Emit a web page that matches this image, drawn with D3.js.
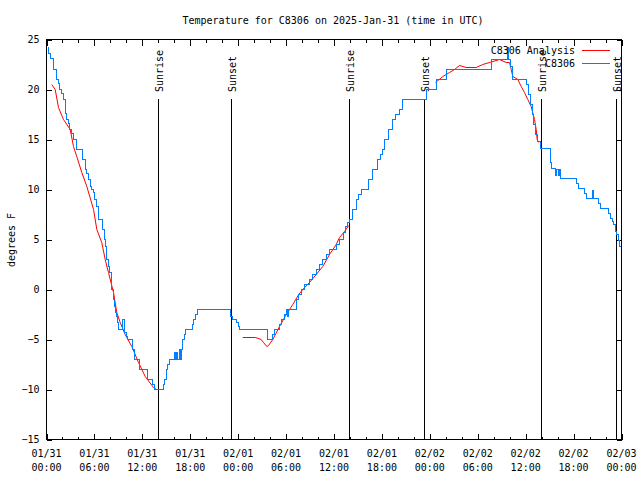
<!DOCTYPE html>
<html><head><meta charset="utf-8">
<script src="https://cdn.jsdelivr.net/npm/d3@7/dist/d3.min.js"></script>
<style>
body{margin:0;background:#fff}
text{font-family:"DejaVu Sans Mono","Liberation Mono",monospace;font-size:10px;fill:#000}
</style>
</head><body>
<svg id="c" width="640" height="480"></svg>
<script>
// ---- data (hours since 2025-01-31 00:00 UTC, degrees F) ----
const blueHours = [0.13,0.25,0.50,0.88,1.25,1.50,1.69,1.88,2.13,2.32,2.50,2.75,2.94,3.13,3.44,3.79,4.55,4.85,5.01,5.26,5.47,5.63,5.89,6.07,6.30,6.51,7.05,7.20,7.35,7.55,7.76,7.89,8.08,8.18,8.33,8.48,8.64,8.80,8.95,9.05,9.48,9.73,10.02,10.18,10.73,11.02,11.65,12.68,13.31,13.52,14.65,14.78,14.99,15.15,15.34,16.00,16.10,16.32,16.42,16.65,16.75,16.88,17.07,17.22,17.41,18.24,18.41,18.66,18.95,23.04,23.25,23.79,23.98,24.17,27.71,28.34,28.55,29.18,29.39,29.80,30.02,30.18,30.30,31.27,31.56,31.89,32.31,32.93,33.31,33.77,34.19,34.60,35.06,35.44,36.28,36.69,37.19,37.44,37.73,37.94,38.35,38.78,39.07,39.41,40.36,40.86,41.45,41.82,42.07,42.32,42.86,43.36,43.70,44.20,44.62,47.55,48.80,50.05,55.69,57.76,57.91,58.10,58.39,60.11,60.36,60.61,60.82,60.98,61.23,61.48,61.86,63.11,63.20,63.74,63.92,64.05,64.25,64.36,66.40,66.65,67.37,67.66,68.33,68.45,69.12,69.37,70.41,70.66,70.87,71.04,71.22,71.41,71.59,71.75,71.94];
const blueTemp = [24.2,23.6,23.1,22.0,21.0,20.6,20.0,19.6,19.0,17.6,17.0,16.6,16.0,15.6,15.0,14.0,13.0,12.0,11.6,11.0,10.3,10.0,9.7,9.0,8.3,7.0,6.0,5.0,4.3,3.0,2.3,1.7,1.0,0.0,-1.0,-1.7,-2.3,-2.7,-3.3,-4.0,-3.0,-4.3,-4.7,-5.0,-6.0,-7.0,-8.0,-9.0,-9.5,-10.0,-9.5,-9.0,-8.0,-7.5,-7.0,-6.3,-7.0,-6.3,-7.0,-6.0,-7.0,-6.0,-5.0,-4.5,-4.0,-3.5,-3.0,-2.5,-2.0,-2.7,-3.0,-3.3,-3.7,-4.0,-5.0,-4.5,-4.0,-3.5,-3.0,-2.5,-2.0,-2.7,-2.0,-1.0,-0.5,0.0,0.5,1.0,1.5,2.0,2.5,3.0,3.5,4.0,4.5,5.0,5.7,6.3,6.7,7.0,8.0,9.0,9.5,10.0,11.0,12.0,13.0,13.5,14.0,15.0,16.0,17.0,17.5,18.0,19.0,20.0,21.0,22.0,23.0,24.2,23.0,22.3,21.0,20.5,19.5,18.5,17.5,16.5,15.5,14.8,14.1,12.7,12.1,11.4,12.0,11.4,12.0,11.1,10.6,10.1,9.6,9.1,9.9,9.1,8.6,8.1,7.6,7.1,6.8,6.5,5.8,5.5,4.9,4.3,4.3];

const redHours = [0.66,1.09,1.50,2.13,2.97,3.38,3.79,4.42,5.05,5.89,6.30,6.92,7.35,7.76,8.39,8.80,9.23,9.85,10.68,11.52,12.36,13.40,13.77,
  20.0,
  24.58,26.17,26.88,27.17,27.59,27.80,28.34,29.18,30.02,30.84,31.59,32.09,32.93,33.77,34.60,35.44,36.28,36.69,37.32,37.85,
  43.0,
  48.71,49.63,50.46,51.09,51.72,52.55,53.81,54.63,55.47,56.72,57.56,57.98,58.19,58.39,59.02,59.44,59.85,60.27,60.69,61.11,61.32,61.44,61.64];
const redTemp = [20.5,20.0,18.2,17.0,16.0,14.3,13.3,11.7,10.3,8.0,6.0,4.7,3.0,1.7,-0.3,-2.3,-3.3,-4.5,-5.7,-7.3,-8.7,-9.8,-10.0,
  null,
  -4.8,-4.8,-5.0,-5.3,-5.7,-5.6,-5.0,-3.7,-2.5,-1.5,-0.5,0.0,0.7,1.5,2.3,3.5,4.5,5.2,5.8,6.4,
  null,
  20.7,21.3,21.7,22.0,22.4,22.2,22.2,22.5,22.7,23.0,22.7,22.7,22.0,21.3,21.0,20.3,19.7,19.0,18.3,17.0,16.0,15.0,14.7];

const eventHours = [14.06,23.20,37.98,47.30,62.02,71.34];
const eventLabels = ["Sunrise","Sunset","Sunrise","Sunset","Sunrise","Sunset"];

const xTickHours = [0,6,12,18,24,30,36,42,48,54,60,66,72];
const xTickDates = ["01/31","01/31","01/31","01/31","02/01","02/01","02/01","02/01","02/02","02/02","02/02","02/02","02/03"];
const xTickTimes = ["00:00","06:00","12:00","18:00","00:00","06:00","12:00","18:00","00:00","06:00","12:00","18:00","00:00"];
const yTicks = [25,20,15,10,5,0,-5,-10,-15];

const seriesNames = ["C8306 Analysis","C8306"];
const seriesColors = ["#ff0000","#0080ff"];
const title = "Temperature for C8306 on 2025-Jan-31 (time in UTC)";
const yLabel = "degrees F";

// ---- drawing ----
const svg = d3.select("#c");
const x = d3.scaleLinear().domain([0,72]).range([46.5,621.5]);
const y = d3.scaleLinear().domain([-15,25]).range([439.5,39.5]);
const minorHours = d3.range(0,73,2);

function axisStyle(g){ g.select(".domain").remove(); g.selectAll("line").attr("stroke","#000").attr("shape-rendering","crispEdges"); }

svg.append("g").attr("transform","translate(0,439.5)")
  .call(d3.axisBottom(x).tickValues(minorHours).tickSize(-3).tickFormat(""))
  .call(axisStyle);
svg.append("g").attr("transform","translate(0,439.5)")
  .call(d3.axisBottom(x).tickValues(xTickHours).tickSize(-6).tickFormat(""))
  .call(axisStyle);
svg.append("g").attr("transform","translate(0,39.5)")
  .call(d3.axisTop(x).tickValues(minorHours).tickSize(-3).tickFormat(""))
  .call(axisStyle);
svg.append("g").attr("transform","translate(0,39.5)")
  .call(d3.axisTop(x).tickValues(xTickHours).tickSize(-6).tickFormat(""))
  .call(axisStyle);
svg.append("g").attr("transform","translate(46.5,0)")
  .call(d3.axisLeft(y).tickValues(yTicks).tickSize(-5).tickPadding(7).tickFormat(d3.format("d")))
  .call(axisStyle)
  .call(g=>g.selectAll("text").attr("font-size",null).attr("font-family",null).attr("fill","#000"));
svg.append("g").attr("transform","translate(621.5,0)")
  .call(d3.axisRight(y).tickValues(yTicks).tickSize(-5).tickFormat(""))
  .call(axisStyle);

// x tick labels, two lines
const xl = svg.append("g");
xTickHours.forEach((h,i)=>{
  const t = xl.append("text").attr("text-anchor","middle").attr("x",x(h));
  t.append("tspan").attr("x",x(h)).attr("y",457).text(xTickDates[i]);
  t.append("tspan").attr("x",x(h)).attr("y",471).text(xTickTimes[i]);
});

// border
svg.append("rect").attr("x",46.5).attr("y",39.5).attr("width",575).attr("height",400)
  .attr("fill","none").attr("stroke","#000").attr("shape-rendering","crispEdges");

// sunrise / sunset
eventHours.forEach((h,i)=>{
  svg.append("line").attr("x1",x(h)).attr("x2",x(h)).attr("y1",99).attr("y2",439.5)
    .attr("stroke","#000").attr("stroke-width",1.2).attr("shape-rendering","crispEdges");
  svg.append("text").attr("transform",`translate(${x(h)+1},92) rotate(-90)`)
    .attr("dominant-baseline","central").text(eventLabels[i]);
});

// series
const redData = redHours.map((h,i)=>[h,redTemp[i]]);
const blueData = blueHours.map((h,i)=>[h,blueTemp[i]]);
svg.append("path").datum(redData)
  .attr("d", d3.line().defined(d=>d[1]!==null).x(d=>x(d[0])).y(d=>y(d[1])))
  .attr("fill","none").attr("stroke",seriesColors[0]).attr("stroke-width",1);
svg.append("path").datum(blueData)
  .attr("d", d3.line().curve(d3.curveStepAfter).x(d=>x(d[0])).y(d=>y(d[1])))
  .attr("fill","none").attr("stroke",seriesColors[1]).attr("stroke-width",1).attr("shape-rendering","crispEdges");

// legend
seriesNames.forEach((n,i)=>{
  const ly = 50 + i*13;
  svg.append("text").attr("x",575).attr("y",ly).attr("dominant-baseline","central").attr("text-anchor","end").text(n);
  svg.append("line").attr("x1",582).attr("x2",610).attr("y1",ly+0.5).attr("y2",ly+0.5)
    .attr("stroke",seriesColors[i]).attr("shape-rendering","crispEdges");
});

// title and y label
svg.append("text").attr("x",333).attr("y",20).attr("text-anchor","middle").attr("dominant-baseline","central").text(title);
svg.append("text").attr("transform","translate(11,240) rotate(-90)").attr("text-anchor","middle").attr("dominant-baseline","central").text(yLabel);
</script>
</body></html>
